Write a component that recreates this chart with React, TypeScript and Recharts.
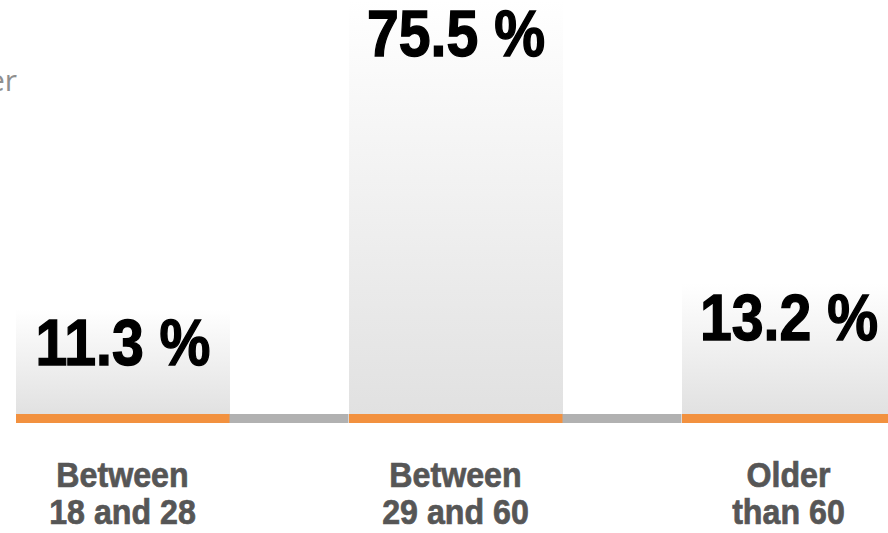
import { BarChart, Bar, XAxis, YAxis, LabelList, ReferenceLine } from "recharts"

// age groups, each tick label split over two lines
const groupKeys = ["18-28", "29-60", "60+"]
const groupLineOne = ["Between", "Between", "Older"]
const groupLineTwo = ["18 and 28", "29 and 60", "than 60"]
const shares = [11.3, 75.5, 13.2]

const axisMin = 5.92
const axisMax = 75.71

const data = groupKeys.map((key, i) => ({ key, share: shares[i] }))

const barSize = 214
const heavy = "'Liberation Sans', Arimo, 'DejaVu Sans', sans-serif"

// squeeze a text horizontally around its anchor, the font set has no condensed face
const squeeze = (cx: number, k: number) => `translate(${cx} 0) scale(${k} 1) translate(${-cx} 0)`

function ShareBar(props: any) {
  const { x, y, width, height } = props
  return (
    <g>
      <rect x={x} y={y} width={width} height={height} fill="url(#shareFill)" />
      <rect x={x} y={y + height} width={width} height={9} fill="#f2913f" />
    </g>
  )
}

function ShareLabel(props: any) {
  const box = props.viewBox || props
  const cx = box.x + box.width / 2
  return (
    <text
      x={cx}
      y={box.y + 56}
      textAnchor="middle"
      fill="#000"
      stroke="#000"
      strokeWidth={1.4}
      fontFamily={heavy}
      fontWeight={700}
      fontSize={65}
      transform={squeeze(cx, 0.88)}
    >
      {`${props.value} %`}
    </text>
  )
}

function GroupTick(props: any) {
  const { x, y, index } = props
  return (
    <text
      x={x}
      textAnchor="middle"
      fill="#565656"
      stroke="#565656"
      strokeWidth={0.7}
      fontFamily={heavy}
      fontWeight={700}
      fontSize={35}
      transform={squeeze(x, 0.92)}
    >
      <tspan x={x} y={y + 73}>{groupLineOne[index]}</tspan>
      <tspan x={x} y={y + 110}>{groupLineTwo[index]}</tspan>
    </text>
  )
}

// grey strip between two neighbouring bars
function GapLine(props: any) {
  const { x1, x2, y1 } = props
  return <rect x={x1 + barSize / 2} y={y1} width={x2 - x1 - barSize} height={9} fill="#b1b1b1" />
}

export default function App() {
  return (
    <div style={{ position: "absolute", left: 0, top: 0, width: 888, height: 533, overflow: "hidden", background: "#fff" }}>
      <svg width={888} height={533} style={{ position: "absolute", left: 0, top: 0 }}>
        <text x={-12} y={91} fill="#8f8f8f" fontFamily="'Open Sans', sans-serif" fontSize={30}>
          er
        </text>
      </svg>
      <div style={{ position: "absolute", left: -44.5, top: 0 }}>
        <BarChart width={999} height={533} data={data} margin={{ top: 0, right: 0, bottom: 0, left: 0 }}>
          <defs>
            <linearGradient id="shareFill" x1="0" y1="0" x2="0" y2="1">
              <stop offset="0%" stopColor="#ffffff" />
              <stop offset="100%" stopColor="#e1e1e1" />
            </linearGradient>
          </defs>
          <XAxis
            dataKey="key"
            height={119}
            axisLine={false}
            tickLine={false}
            tickSize={0}
            tickMargin={0}
            interval={0}
            tick={<GroupTick />}
          />
          <YAxis hide type="number" scale="log" domain={[axisMin, axisMax]} />
          <ReferenceLine
            segment={[
              { x: groupKeys[0], y: axisMin },
              { x: groupKeys[1], y: axisMin },
            ]}
            shape={<GapLine />}
          />
          <ReferenceLine
            segment={[
              { x: groupKeys[1], y: axisMin },
              { x: groupKeys[2], y: axisMin },
            ]}
            shape={<GapLine />}
          />
          <Bar dataKey="share" barSize={barSize} shape={<ShareBar />} isAnimationActive={false}>
            <LabelList dataKey="share" content={<ShareLabel />} />
          </Bar>
        </BarChart>
      </div>
    </div>
  )
}
